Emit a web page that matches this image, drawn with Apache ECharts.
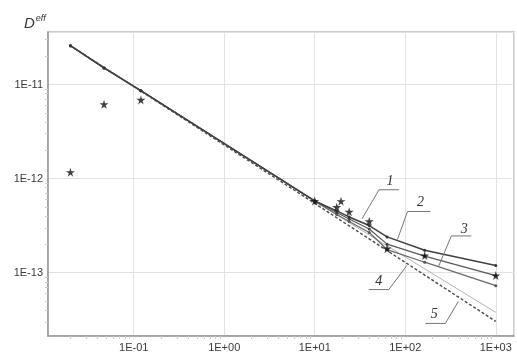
<!DOCTYPE html>
<html>
<head>
<meta charset="utf-8">
<script src="https://cdn.jsdelivr.net/npm/echarts@6/dist/echarts.min.js"></script>
<style>
html,body{margin:0;padding:0;background:#fff;}
#c{width:517px;height:363px;}
</style>
</head>
<body>
<div id="c"></div>
<script>
// ---- data ----
const expX = [0.02, 0.047, 0.12, 10, 17.5, 19.5, 24, 40, 63, 164, 1000];
const expY = [1.17e-12, 6.18e-12, 6.87e-12, 5.78e-13, 4.97e-13, 5.75e-13, 4.44e-13, 3.52e-13, 1.80e-13, 1.52e-13, 9.3e-14];

const modelX = [0.02, 0.047, 0.12, 10, 17.5, 24, 40, 63, 164, 1000];
const line1Y = [2.59e-11, 1.50e-11, 8.6e-12, 5.78e-13, 4.53e-13, 3.91e-13, 3.17e-13, 2.40e-13, 1.73e-13, 1.19e-13];
const line2Y = [2.59e-11, 1.50e-11, 8.6e-12, 5.78e-13, 4.36e-13, 3.72e-13, 2.91e-13, 2.01e-13, 1.50e-13, 9.29e-14];
const line3Y = [2.59e-11, 1.50e-11, 8.6e-12, 5.78e-13, 4.15e-13, 3.50e-13, 2.67e-13, 1.76e-13, 1.29e-13, 7.26e-14];

const line4X = [0.02, 10, 1000];
const line4Y = [2.59e-11, 5.70e-13, 3.78e-14];
const line5X = [0.02, 10, 1000];
const line5Y = [2.59e-11, 5.45e-13, 3.03e-14];

// curve labels: name, anchor point on curve (data coords)
const curveLabels = ['1', '2', '3', '4', '5'];
const labelAnchorX = [33.3, 82, 232, 104, 386];
const labelAnchorY = [3.74e-13, 2.25e-13, 1.15e-13, 1.19e-13, 4.94e-14];

const xMin = 0.0113, xMax = 1590;
const yMin = 2.12e-14, yMax = 3.62e-11;

function zip(xs, ys) { return xs.map((x, i) => [x, ys[i]]); }

function fmtPow(v) {
  const e = Math.log10(v);
  const r = Math.round(e);
  if (Math.abs(e - r) > 1e-6) return '';
  const s = r < 0 ? '-' : '+';
  const a = Math.abs(r);
  return '1E' + s + (a < 10 ? '0' + a : '' + a);
}

const starPath = 'path://M50,0 L61,35 L98,35 L68,57 L79,91 L50,70 L21,91 L32,57 L2,35 L39,35 Z';

const chart = echarts.init(document.getElementById('c'), null, {renderer: 'canvas'});

const axisCommon = {
  type: 'log',
  logBase: 10,
  axisLine: {show: true, lineStyle: {color: '#999', width: 1.5}},
  axisTick: {show: false},
  minorTick: {show: true, splitNumber: 9, length: 3, lineStyle: {color: '#ccc'}},
  splitLine: {show: true, lineStyle: {color: '#e2e2e2', width: 1}},
  axisLabel: {
    color: '#3a3a3a', fontFamily: 'Liberation Sans', fontSize: 11,
    formatter: fmtPow, showMinLabel: true, showMaxLabel: true
  }
};

const option = {
  animation: false,
  backgroundColor: '#fff',
  title: {
    text: '{d|D}{e|eff}',
    left: 19, top: 9,
    textStyle: {
      fontWeight: 'normal',
      rich: {
        d: {fontFamily: 'Liberation Sans', fontStyle: 'italic', fontWeight: 'normal', fontSize: 15, color: '#333', verticalAlign: 'bottom'},
        e: {fontFamily: 'Liberation Sans', fontStyle: 'italic', fontWeight: 'normal', fontSize: 9, color: '#333', verticalAlign: 'top', padding: [0, 0, 8, 1]}
      }
    }
  },
  grid: {left: 48, top: 32, width: 468, height: 304, show: true, borderColor: '#bbb', borderWidth: 1.5, containLabel: false},
  xAxis: Object.assign({}, axisCommon, {
    min: xMin, max: xMax,
    axisLabel: Object.assign({}, axisCommon.axisLabel, {margin: 6})
  }),
  yAxis: Object.assign({}, axisCommon, {
    min: yMin, max: yMax,
    axisLabel: Object.assign({}, axisCommon.axisLabel, {margin: 5})
  }),
  series: [
    {type: 'line', name: '5', data: zip(line5X, line5Y), showSymbol: false, symbol: 'none',
      lineStyle: {color: '#4a4a4a', width: 1.4, type: [3, 2]}, z: 2},
    {type: 'line', name: '4', data: zip(line4X, line4Y), showSymbol: false, symbol: 'none',
      lineStyle: {color: '#b5b5b5', width: 1}, z: 2},
    {type: 'line', name: '3', data: zip(modelX, line3Y), symbol: 'circle', symbolSize: 3,
      itemStyle: {color: '#555'}, lineStyle: {color: '#6a6a6a', width: 1.3}, z: 3},
    {type: 'line', name: '2', data: zip(modelX, line2Y), symbol: 'circle', symbolSize: 3,
      itemStyle: {color: '#444'}, lineStyle: {color: '#5a5a5a', width: 1.3}, z: 3},
    {type: 'line', name: '1', data: zip(modelX, line1Y), symbol: 'circle', symbolSize: 3,
      itemStyle: {color: '#333'}, lineStyle: {color: '#404040', width: 1.5}, z: 3},
    {type: 'scatter', name: 'exp', data: zip(expX, expY), symbol: starPath, symbolSize: 9,
      itemStyle: {color: '#111'}, z: 5}
  ]
};
chart.setOption(option);

// leader lines with curve numbers, anchored to data points on the curves
const offsets = [
  {elbow: [17, -29], end: [37, -29], label: [28, -37]},
  {elbow: [10, -28], end: [33, -28], label: [23, -37]},
  {elbow: [13, -31], end: [33, -31], label: [26, -38]},
  {elbow: [-18, 24], end: [-38, 24], label: [-28, 16]},
  {elbow: [-13, 22], end: [-33, 22], label: [-24, 13]}
];
const graphics = [];
curveLabels.forEach((name, i) => {
  const p = chart.convertToPixel({gridIndex: 0}, [labelAnchorX[i], labelAnchorY[i]]);
  const o = offsets[i];
  graphics.push({
    type: 'polyline', silent: true, z: 10,
    shape: {points: [p, [p[0] + o.elbow[0], p[1] + o.elbow[1]], [p[0] + o.end[0], p[1] + o.end[1]]]},
    style: {stroke: '#777', lineWidth: 1, fill: null}
  });
  graphics.push({
    type: 'text', silent: true, z: 10,
    x: p[0] + o.label[0], y: p[1] + o.label[1],
    style: {text: name, fill: '#333', font: 'italic 14px "Liberation Serif"', align: 'center', verticalAlign: 'middle'}
  });
});
chart.setOption({graphic: graphics});
</script>
</body>
</html>
